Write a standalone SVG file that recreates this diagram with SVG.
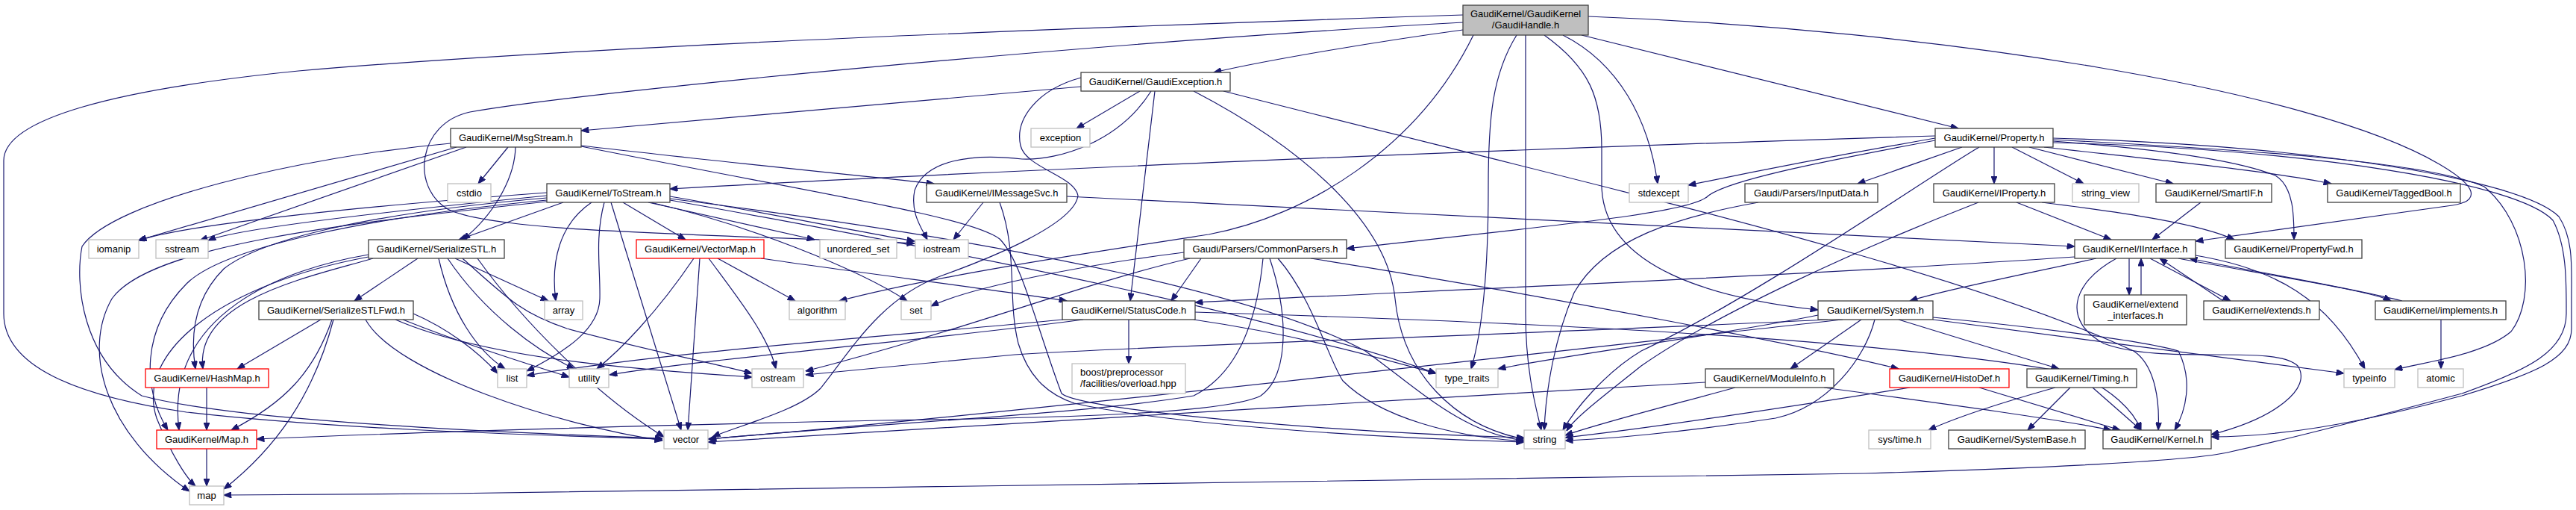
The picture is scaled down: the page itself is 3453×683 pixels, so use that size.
<svg xmlns="http://www.w3.org/2000/svg" width="3453" height="683" viewBox="0 0 3453 683">
<style>
rect{stroke-width:1.3}
.n{fill:#fff;stroke:#404040}
.x{fill:#fff;stroke:#bfbfbf}
.r{fill:#fff;stroke:#ff0000}
.root{fill:#bfbfbf;stroke:#404040}
text{font-family:"Liberation Sans",Arial,sans-serif;font-size:13px;fill:#000;text-anchor:middle}
.l{text-anchor:start}
#edges path{fill:none;stroke:#191970;stroke-width:1.2}
</style>
<defs>
<marker id="a" viewBox="0 0 10 8" refX="10" refY="4" markerUnits="userSpaceOnUse" markerWidth="11" markerHeight="8" orient="auto">
<path d="M0,0 L10,4 L0,8 z" fill="#191970" stroke="#191970"/>
</marker>
</defs>
<rect width="3453" height="683" fill="#fff"/>
<g id="edges" marker-end="url(#a)">
<path d="M1961,40 C1850,55 1700,80 1627,97"/>
<path d="M1961,20 C1500,35 800,60 400,95 C150,120 5,160 5,215 L5,420 C5,490 100,530 250,552 C450,575 700,582 888,588"/>
<path d="M1961,30 C1500,55 800,120 630,150 C560,165 550,250 600,280 C660,310 900,312 1226,326"/>
<path d="M1975,47 C1900,200 1750,290 1620,314 C1450,340 1250,370 1125,403"/>
<path d="M2033,47 C2000,100 1995,160 1995,250 C1995,380 1985,450 1972,494"/>
<path d="M2045,47 L2045,420 C2045,500 2060,550 2066,576"/>
<path d="M2095,47 C2170,85 2210,160 2222,246"/>
<path d="M2070,47 C2130,90 2147,130 2147,200 L2147,250 C2150,360 2300,400 2437,415"/>
<path d="M2120,47 L2625,172"/>
<path d="M2129,22 C2600,40 3100,120 3270,220 C3330,255 3320,272 3280,276 L2943,323"/>
<path d="M1449,116 L779,175"/>
<path d="M1528,122 L1443,172"/>
<path d="M1548,122 L1515,403"/>
<path d="M1543,122 C1500,190 1420,215 1370,213 C1300,205 1240,215 1226,255 C1220,285 1235,305 1243,321"/>
<path d="M1449,104 C1390,120 1360,160 1368,195 C1375,225 1440,235 1445,262 C1440,300 1330,345 1260,370 C1180,400 1140,470 1100,520 C1070,550 990,570 955,585"/>
<path d="M1600,122 C1750,200 1860,300 1870,400 C1880,500 1950,570 2043,588"/>
<path d="M1640,122 C2100,240 2600,350 2860,470 C2890,490 2895,540 2893,576"/>
<path d="M681,197 L641,246"/>
<path d="M691,197 C690,240 660,290 620,321"/>
<path d="M779,195 C950,215 1150,235 1252,246"/>
<path d="M779,196 C1100,260 1300,290 1340,320 C1370,350 1390,440 1423,527 C1450,550 1800,580 2043,586"/>
<path d="M612,197 L185,322"/>
<path d="M625,197 L268,322"/>
<path d="M604,192 C400,210 150,270 110,330 C100,380 110,480 190,530 C300,560 600,577 888,587"/>
<path d="M755,271 L615,321"/>
<path d="M793,271 C750,300 738,350 745,403"/>
<path d="M810,271 C797,320 805,360 804,400 C803,440 760,470 706,497"/>
<path d="M819,271 L913,576"/>
<path d="M835,271 L919,321"/>
<path d="M869,271 L1092,321"/>
<path d="M872,271 C1000,300 1150,360 1216,403"/>
<path d="M898,263 C1000,280 1150,310 1226,323"/>
<path d="M898,266 C1400,330 1700,400 1830,470 C1900,520 1960,580 2043,590"/>
<path d="M898,268 C1300,340 1700,420 1925,500"/>
<path d="M733,258 C500,275 250,300 186,322"/>
<path d="M733,262 C550,280 320,305 279,322"/>
<path d="M733,265 C500,285 350,320 300,360 C260,400 255,450 262,494"/>
<path d="M733,268 C500,290 300,330 250,380 C190,440 190,520 225,576"/>
<path d="M733,270 C450,300 200,330 150,400 C110,470 140,580 254,658"/>
<path d="M560,346 L475,403"/>
<path d="M500,346 C420,370 260,400 272,494"/>
<path d="M494,341 C380,360 220,420 240,576"/>
<path d="M494,344 C300,380 180,470 210,560 C230,610 250,640 262,651"/>
<path d="M610,346 L735,403"/>
<path d="M588,346 C605,420 640,470 677,494"/>
<path d="M600,346 C650,420 720,470 770,494"/>
<path d="M620,346 C680,400 700,420 760,440 C850,465 950,485 1008,500"/>
<path d="M640,346 C700,430 800,530 890,585"/>
<path d="M430,428 L318,494"/>
<path d="M445,428 C420,500 380,540 310,576"/>
<path d="M447,428 C420,530 370,600 300,655"/>
<path d="M554,420 C600,440 640,470 667,500"/>
<path d="M540,428 C620,460 700,485 763,505"/>
<path d="M530,428 C650,480 850,495 1008,505"/>
<path d="M490,428 C530,500 750,570 888,590"/>
<path d="M277,519 L277,576"/>
<path d="M277,601 L277,651"/>
<path d="M962,346 L1066,403"/>
<path d="M930,346 C880,420 830,470 800,494"/>
<path d="M938,346 L922,576"/>
<path d="M950,346 C990,400 1030,450 1040,494"/>
<path d="M1020,346 C1150,365 1350,390 1430,403"/>
<path d="M1318,271 L1278,321"/>
<path d="M1430,263 L2781,330"/>
<path d="M1340,271 C1365,340 1350,400 1365,460 C1380,510 1410,530 1440,540 C1550,565 1800,585 2043,592"/>
<path d="M2594,182 C2000,200 1300,230 898,253"/>
<path d="M2594,185 C2450,210 2350,230 2263,248"/>
<path d="M2594,188 C2450,215 2320,240 2290,262 C2270,285 2100,300 1805,333"/>
<path d="M2630,197 L2490,246"/>
<path d="M2653,197 C2580,240 2350,400 2200,470 C2150,500 2110,550 2095,576"/>
<path d="M2673,197 L2673,246"/>
<path d="M2697,197 L2793,246"/>
<path d="M2720,197 L2913,246"/>
<path d="M2740,197 C2900,215 3050,230 3125,246"/>
<path d="M2752,189 C2900,200 3000,215 3050,235 C3075,250 3075,290 3075,321"/>
<path d="M2752,187 C3000,200 3250,215 3330,250 C3390,300 3400,400 3366,444 C3330,475 3250,485 3210,495"/>
<path d="M2752,185 C3100,195 3380,240 3430,290 C3450,320 3447,360 3447,400 L3447,440 C3447,480 3400,500 3300,530 C3150,570 3050,585 2964,585"/>
<path d="M2752,191 C3100,200 3375,245 3422,295 C3441,330 3440,380 3440,420 C3440,470 3390,495 3300,527 C3150,567 3050,592 2990,605 C2950,615 2800,625 2500,634 L600,661 L300,663"/>
<path d="M2703,271 L2830,321"/>
<path d="M2737,271 C2850,285 2950,300 2995,321"/>
<path d="M2652,271 C2500,330 2300,420 2200,490 C2150,530 2110,560 2100,577"/>
<path d="M2357,271 C2250,290 2150,320 2110,392 C2085,450 2072,520 2070,576"/>
<path d="M2950,271 L2885,321"/>
<path d="M1610,346 L1570,403"/>
<path d="M1587,338 C1450,355 1300,385 1248,410"/>
<path d="M1713,346 C1760,400 1780,480 1800,510 C1850,560 1950,585 2043,591"/>
<path d="M1757,346 C2100,400 2450,470 2545,494"/>
<path d="M1693,346 C1685,430 1660,500 1600,530 C1450,555 1200,565 950,588"/>
<path d="M1702,346 C1730,430 1725,505 1690,530 C1640,555 1400,560 1180,563 C900,569 600,577 344,588"/>
<path d="M1595,346 C1450,380 1300,440 1080,497"/>
<path d="M1425,428 C1200,450 900,470 706,503"/>
<path d="M1452,428 C1250,455 950,480 817,502"/>
<path d="M1513,428 L1513,487"/>
<path d="M1600,428 C1750,450 1850,480 1925,500"/>
<path d="M1602,418 C2000,430 2500,450 2780,500 C2830,520 2860,550 2870,576"/>
<path d="M2495,428 L2400,494"/>
<path d="M2545,428 L2760,494"/>
<path d="M2513,428 C2500,480 2450,545 2380,560 C2250,580 2150,588 2098,590"/>
<path d="M2591,425 C2700,435 2870,455 2920,470 C2940,510 2930,550 2915,576"/>
<path d="M2591,428 L3142,500"/>
<path d="M2437,422 C2300,450 2100,475 2008,494"/>
<path d="M2470,428 C2000,480 1300,560 949,588"/>
<path d="M2450,428 C2000,450 1600,460 1360,475 C1250,485 1150,495 1080,502"/>
<path d="M2810,346 C2700,370 2600,390 2560,403"/>
<path d="M2854,346 L2854,395"/>
<path d="M2870,395 L2870,346"/>
<path d="M2882,346 L2990,403"/>
<path d="M2980,403 L2895,346"/>
<path d="M2920,346 C3050,370 3180,390 3205,403"/>
<path d="M3220,403 C3150,385 3000,360 2935,346"/>
<path d="M2943,342 C3050,360 3120,400 3170,494"/>
<path d="M2781,344 C2400,370 1900,390 1602,405"/>
<path d="M2837,346 C2775,380 2765,430 2820,460 C2900,490 3050,460 3080,490 C3100,520 3050,560 2964,582"/>
<path d="M3272,428 L3272,494"/>
<path d="M2326,519 C2250,540 2150,565 2098,583"/>
<path d="M2445,519 C2600,540 2750,560 2830,576"/>
<path d="M2286,512 C1800,540 1200,575 949,592"/>
<path d="M2653,519 L2842,576"/>
<path d="M2560,519 C2400,545 2200,575 2098,586"/>
<path d="M2805,519 L2870,576"/>
<path d="M2775,519 L2718,576"/>
<path d="M2755,519 C2680,540 2620,560 2585,576"/>
</g>
<g id="n-gaudihandle"><rect class="root" x="1961" y="7" width="168" height="40"/><text x="2045" y="23">GaudiKernel/GaudiKernel</text><text x="2045" y="38">/GaudiHandle.h</text></g>
<g id="n-gaudiexception"><rect class="n" x="1449" y="97" width="200" height="25"/><text x="1549" y="114">GaudiKernel/GaudiException.h</text></g>
<g id="n-msgstream"><rect class="n" x="604" y="172" width="175" height="25"/><text x="691.5" y="189">GaudiKernel/MsgStream.h</text></g>
<g id="n-exception"><rect class="x" x="1382" y="172" width="79" height="25"/><text x="1421.5" y="189">exception</text></g>
<g id="n-property"><rect class="n" x="2594" y="172" width="158" height="25"/><text x="2673" y="189">GaudiKernel/Property.h</text></g>
<g id="n-cstdio"><rect class="x" x="600" y="246" width="58" height="25"/><text x="629" y="263">cstdio</text></g>
<g id="n-tostream"><rect class="n" x="733" y="246" width="165" height="25"/><text x="815.5" y="263">GaudiKernel/ToStream.h</text></g>
<g id="n-imessagesvc"><rect class="n" x="1242" y="246" width="188" height="25"/><text x="1336" y="263">GaudiKernel/IMessageSvc.h</text></g>
<g id="n-stdexcept"><rect class="x" x="2184" y="246" width="79" height="25"/><text x="2223.5" y="263">stdexcept</text></g>
<g id="n-inputdata"><rect class="n" x="2339" y="246" width="178" height="25"/><text x="2428" y="263">Gaudi/Parsers/InputData.h</text></g>
<g id="n-iproperty"><rect class="n" x="2592" y="246" width="162" height="25"/><text x="2673" y="263">GaudiKernel/IProperty.h</text></g>
<g id="n-string_view"><rect class="x" x="2778" y="246" width="89" height="25"/><text x="2822.5" y="263">string_view</text></g>
<g id="n-smartif"><rect class="n" x="2890" y="246" width="155" height="25"/><text x="2967.5" y="263">GaudiKernel/SmartIF.h</text></g>
<g id="n-taggedbool"><rect class="n" x="3120" y="246" width="178" height="25"/><text x="3209" y="263">GaudiKernel/TaggedBool.h</text></g>
<g id="n-iomanip"><rect class="x" x="119" y="321" width="67" height="25"/><text x="152.5" y="338">iomanip</text></g>
<g id="n-sstream"><rect class="x" x="209" y="321" width="70" height="25"/><text x="244" y="338">sstream</text></g>
<g id="n-serializestl"><rect class="n" x="494" y="321" width="182" height="25"/><text x="585" y="338">GaudiKernel/SerializeSTL.h</text></g>
<g id="n-vectormap"><rect class="r" x="853" y="321" width="171" height="25"/><text x="938.5" y="338">GaudiKernel/VectorMap.h</text></g>
<g id="n-unordered_set"><rect class="x" x="1099" y="321" width="103" height="25"/><text x="1150.5" y="338">unordered_set</text></g>
<g id="n-iostream"><rect class="x" x="1227" y="321" width="71" height="25"/><text x="1262.5" y="338">iostream</text></g>
<g id="n-commonparsers"><rect class="n" x="1587" y="321" width="218" height="25"/><text x="1696" y="338">Gaudi/Parsers/CommonParsers.h</text></g>
<g id="n-iinterface"><rect class="n" x="2781" y="321" width="162" height="25"/><text x="2862" y="338">GaudiKernel/IInterface.h</text></g>
<g id="n-propertyfwd"><rect class="n" x="2983" y="321" width="183" height="25"/><text x="3074.5" y="338">GaudiKernel/PropertyFwd.h</text></g>
<g id="n-serializestlfwd"><rect class="n" x="347" y="403" width="207" height="25"/><text x="450.5" y="420">GaudiKernel/SerializeSTLFwd.h</text></g>
<g id="n-array"><rect class="x" x="730" y="403" width="51" height="25"/><text x="755.5" y="420">array</text></g>
<g id="n-algorithm"><rect class="x" x="1058" y="403" width="75" height="25"/><text x="1095.5" y="420">algorithm</text></g>
<g id="n-set"><rect class="x" x="1208" y="403" width="40" height="25"/><text x="1228" y="420">set</text></g>
<g id="n-statuscode"><rect class="n" x="1424" y="403" width="178" height="25"/><text x="1513" y="420">GaudiKernel/StatusCode.h</text></g>
<g id="n-system"><rect class="n" x="2437" y="403" width="154" height="25"/><text x="2514" y="420">GaudiKernel/System.h</text></g>
<g id="n-extend_interfaces"><rect class="n" x="2794" y="395" width="137" height="40"/><text x="2862.5" y="412">GaudiKernel/extend</text><text x="2862.5" y="427">_interfaces.h</text></g>
<g id="n-extends"><rect class="n" x="2954" y="403" width="155" height="25"/><text x="3031.5" y="420">GaudiKernel/extends.h</text></g>
<g id="n-implements"><rect class="n" x="3184" y="403" width="175" height="25"/><text x="3271.5" y="420">GaudiKernel/implements.h</text></g>
<g id="n-hashmap"><rect class="r" x="195" y="494" width="165" height="25"/><text x="277.5" y="511">GaudiKernel/HashMap.h</text></g>
<g id="n-list"><rect class="x" x="667" y="494" width="39" height="25"/><text x="686.5" y="511">list</text></g>
<g id="n-utility"><rect class="x" x="763" y="494" width="53" height="25"/><text x="789.5" y="511">utility</text></g>
<g id="n-ostream"><rect class="x" x="1008" y="494" width="69" height="25"/><text x="1042.5" y="511">ostream</text></g>
<g id="n-boost"><rect class="x" x="1437" y="487" width="152" height="40"/><text class="l" x="1448" y="503">boost/preprocessor</text><text class="l" x="1448" y="518">/facilities/overload.hpp</text></g>
<g id="n-type_traits"><rect class="x" x="1925" y="494" width="83" height="25"/><text x="1966.5" y="511">type_traits</text></g>
<g id="n-moduleinfo"><rect class="n" x="2286" y="494" width="172" height="25"/><text x="2372" y="511">GaudiKernel/ModuleInfo.h</text></g>
<g id="n-histodef"><rect class="r" x="2533" y="494" width="160" height="25"/><text x="2613" y="511">GaudiKernel/HistoDef.h</text></g>
<g id="n-timing"><rect class="n" x="2717" y="494" width="147" height="25"/><text x="2790.5" y="511">GaudiKernel/Timing.h</text></g>
<g id="n-typeinfo"><rect class="x" x="3142" y="494" width="68" height="25"/><text x="3176" y="511">typeinfo</text></g>
<g id="n-atomic"><rect class="x" x="3241" y="494" width="61" height="25"/><text x="3271.5" y="511">atomic</text></g>
<g id="n-map_h"><rect class="r" x="210" y="576" width="134" height="25"/><text x="277" y="593">GaudiKernel/Map.h</text></g>
<g id="n-vector"><rect class="x" x="890" y="576" width="59" height="25"/><text x="919.5" y="593">vector</text></g>
<g id="n-string"><rect class="x" x="2043" y="576" width="55" height="25"/><text x="2070.5" y="593">string</text></g>
<g id="n-systime"><rect class="x" x="2505" y="576" width="83" height="25"/><text x="2546.5" y="593">sys/time.h</text></g>
<g id="n-systembase"><rect class="n" x="2612" y="576" width="183" height="25"/><text x="2703.5" y="593">GaudiKernel/SystemBase.h</text></g>
<g id="n-kernel"><rect class="n" x="2819" y="576" width="145" height="25"/><text x="2891.5" y="593">GaudiKernel/Kernel.h</text></g>
<g id="n-map"><rect class="x" x="254" y="651" width="46" height="25"/><text x="277" y="668">map</text></g>
</svg>
